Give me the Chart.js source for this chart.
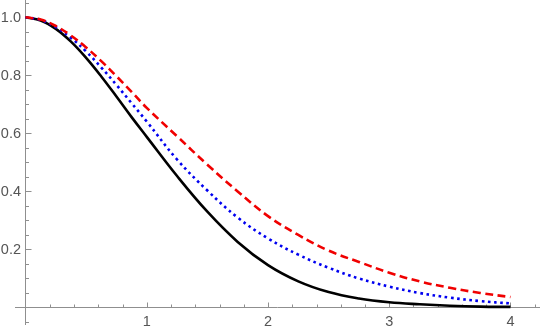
<!DOCTYPE html>
<html>
<head>
<meta charset="utf-8">
<script src="https://cdn.jsdelivr.net/npm/chart.js@4.4.0/dist/chart.umd.min.js"></script>
<style>
html,body{margin:0;padding:0;background:#fff;}
#wrap{width:540px;height:330px;}
</style>
</head>
<body>
<div id="wrap"><canvas id="c" width="540" height="330"></canvas></div>
<script>
// ---- data ----
const xValues     = [0, 0.125, 0.25, 0.375, 0.5, 0.625, 0.75, 0.875, 1.0, 1.25, 1.5, 1.75, 2.0, 2.25, 2.5, 2.75, 3.0, 3.25, 3.5, 3.75, 4.0];
const blackValues = [1.000, 0.989, 0.960, 0.916, 0.860, 0.796, 0.727, 0.656, 0.588, 0.453, 0.330, 0.226, 0.146, 0.090, 0.053, 0.031, 0.018, 0.011, 0.006, 0.003, 0.002];
const blueValues  = [1.000, 0.991, 0.966, 0.929, 0.882, 0.827, 0.767, 0.704, 0.641, 0.510, 0.403, 0.310, 0.238, 0.182, 0.137, 0.100, 0.072, 0.050, 0.034, 0.022, 0.014];
const redValues   = [1.000, 0.992, 0.970, 0.937, 0.896, 0.849, 0.797, 0.743, 0.688, 0.590, 0.492, 0.400, 0.315, 0.250, 0.196, 0.157, 0.120, 0.090, 0.068, 0.050, 0.036];
const xTickLabels = ["1", "2", "3", "4"];
const yTickLabels = ["0.2", "0.4", "0.6", "0.8", "1.0"];

const toPts = ys => xValues.map((x, i) => ({x: x, y: ys[i]}));

const axesPlugin = {
  id: 'mathAxes',
  beforeDatasetsDraw(chart) {
    const ctx = chart.ctx, a = chart.chartArea;
    const xs = chart.scales.x, ys = chart.scales.y;
    const x0 = xs.getPixelForValue(0), y0 = ys.getPixelForValue(0);
    ctx.save();
    ctx.strokeStyle = '#8f8f8f';
    ctx.lineWidth = 1;
    ctx.beginPath();
    ctx.moveTo(a.left, y0); ctx.lineTo(a.right, y0);
    ctx.moveTo(x0, a.top); ctx.lineTo(x0, a.bottom);
    ctx.stroke();
    ctx.beginPath();
    for (let k = 1; k <= 21; k++) {
      const v = k * 0.2;
      if (v > xs.max) break;
      const p = Math.round(xs.getPixelForValue(v)) + 0.5;
      const len = (k % 5 === 0) ? 5 : 3;
      ctx.moveTo(p, y0); ctx.lineTo(p, y0 - len);
    }
    for (let k = -1; k <= 21; k++) {
      const v = k * 0.05;
      if (k === 0 || v > ys.max) continue;
      const p = Math.round(ys.getPixelForValue(v)) + 0.5;
      const len = (k % 4 === 0) ? 6 : 3.5;
      ctx.moveTo(x0, p); ctx.lineTo(x0 + len, p);
    }
    ctx.stroke();
    ctx.fillStyle = '#555555';
    ctx.font = '14.5px "Liberation Sans", Arial, sans-serif';
    ctx.textAlign = 'center';
    ctx.textBaseline = 'middle';
    xTickLabels.forEach(t => {
      ctx.fillText(t, xs.getPixelForValue(parseFloat(t)), 322);
    });
    ctx.textAlign = 'right';
    yTickLabels.forEach(t => {
      ctx.fillText(t, x0 - 4.5, ys.getPixelForValue(parseFloat(t)) + 0.5);
    });
    ctx.restore();
  }
};

new Chart(document.getElementById('c'), {
  type: 'line',
  data: {
    datasets: [
      {label: 'red', data: toPts(redValues), borderColor: '#f00000', borderWidth: 2.6,
       borderDash: [8, 4.5], borderCapStyle: 'butt', pointRadius: 0, fill: false, tension: 0.4},
      {label: 'blue', data: toPts(blueValues), borderColor: '#0000f0', borderWidth: 2.6,
       borderDash: [2.6, 3.6], borderCapStyle: 'butt', pointRadius: 0, fill: false, tension: 0.4},
      {label: 'black', data: toPts(blackValues), borderColor: '#000000', borderWidth: 2.6,
       pointRadius: 0, fill: false, tension: 0.4}
    ]
  },
  options: {
    responsive: false,
    devicePixelRatio: 1,
    animation: false,
    layout: {padding: {left: 15, right: 0, top: 0, bottom: 5}},
    plugins: {legend: {display: false}, tooltip: {enabled: false}},
    scales: {
      x: {type: 'linear', min: -0.0866, max: 4.2433, display: false},
      y: {type: 'linear', min: -0.0603, max: 1.0596, display: false}
    }
  },
  plugins: [axesPlugin]
});
</script>
</body>
</html>
